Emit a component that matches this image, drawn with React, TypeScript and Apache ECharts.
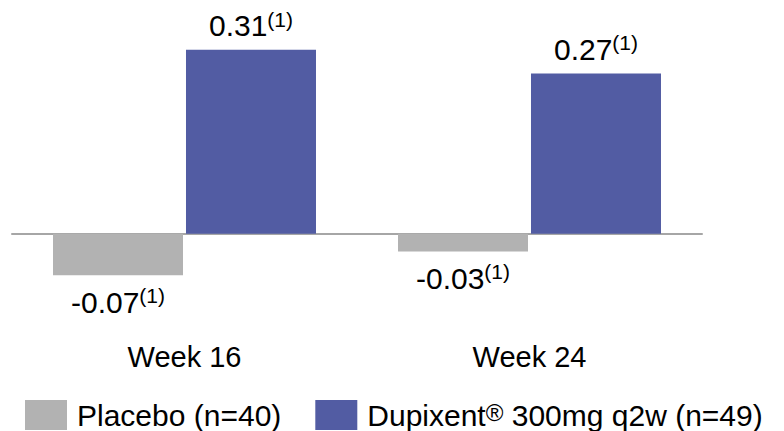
import React, { useEffect, useRef } from "react";
import * as echarts from "echarts";

// Change from baseline by visit, per treatment arm
const categories = ["Week 16", "Week 24"];
const placeboName = "Placebo (n=40)";
const dupixentName = "Dupixent® 300mg q2w (n=49)";
const placeboValues = [-0.07, -0.03];
const dupixentValues = [0.31, 0.27];
const footnote = "(1)";

const FONT = "'Liberation Sans', Arial, Helvetica, sans-serif";
const GRAY = "#b2b2b2";
const BLUE = "#525ca3";

const valueLabel = (distance: number, position: "top" | "bottom") => ({
  show: true,
  position,
  distance,
  formatter: (p: any) => `{v|${Number(p.value).toFixed(2)}}{s|${footnote}}`,
  rich: {
    v: { fontFamily: FONT, fontSize: 30, color: "#000", lineHeight: 34 },
    s: { fontFamily: FONT, fontSize: 21, color: "#000", lineHeight: 22, verticalAlign: "top" },
  },
});

export default function App() {
  const ref = useRef<HTMLDivElement>(null);

  useEffect(() => {
    if (!ref.current) return;
    const chart = echarts.init(ref.current, null, { renderer: "svg" });
    chart.setOption({
      animation: false,
      backgroundColor: "#fff",
      textStyle: { fontFamily: FONT },
      grid: { left: 12, width: 690, top: 26, height: 267 },
      legend: {
        left: 20,
        top: 395,
        itemWidth: 42,
        itemHeight: 30,
        itemGap: 34,
        icon: "rect",
        data: [placeboName, dupixentName],
        formatter: (name: string) =>
          name === dupixentName ? "Dupixent{sup|®} 300mg q2w (n=49)" : name,
        textStyle: {
          fontFamily: FONT,
          fontSize: 30,
          color: "#000",
          padding: [0, 0, 0, 5],
          rich: {
            sup: { fontFamily: FONT, fontSize: 24, lineHeight: 24, verticalAlign: "top", color: "#000" },
          },
        },
      },
      xAxis: {
        type: "category",
        data: categories,
        axisLine: { onZero: true, lineStyle: { color: "#a6a6a6", width: 2 } },
        axisTick: { show: false },
        axisLabel: { margin: 49, fontFamily: FONT, fontSize: 29, color: "#000", lineHeight: 29 },
      },
      yAxis: {
        type: "value",
        min: -0.1,
        max: 0.35,
        show: false,
        splitLine: { show: false },
      },
      series: [
        {
          name: placeboName,
          type: "bar",
          data: placeboValues,
          barWidth: 130,
          barGap: "2.3%",
          itemStyle: { color: GRAY },
          label: valueLabel(10, "bottom"),
        },
        {
          name: dupixentName,
          type: "bar",
          data: dupixentValues,
          barWidth: 130,
          itemStyle: { color: BLUE },
          label: valueLabel(7, "top"),
        },
      ],
    });
    return () => chart.dispose();
  }, []);

  return (
    <div
      ref={ref}
      style={{ position: "fixed", left: 0, top: 0, width: 784, height: 431, background: "#fff" }}
    />
  );
}
